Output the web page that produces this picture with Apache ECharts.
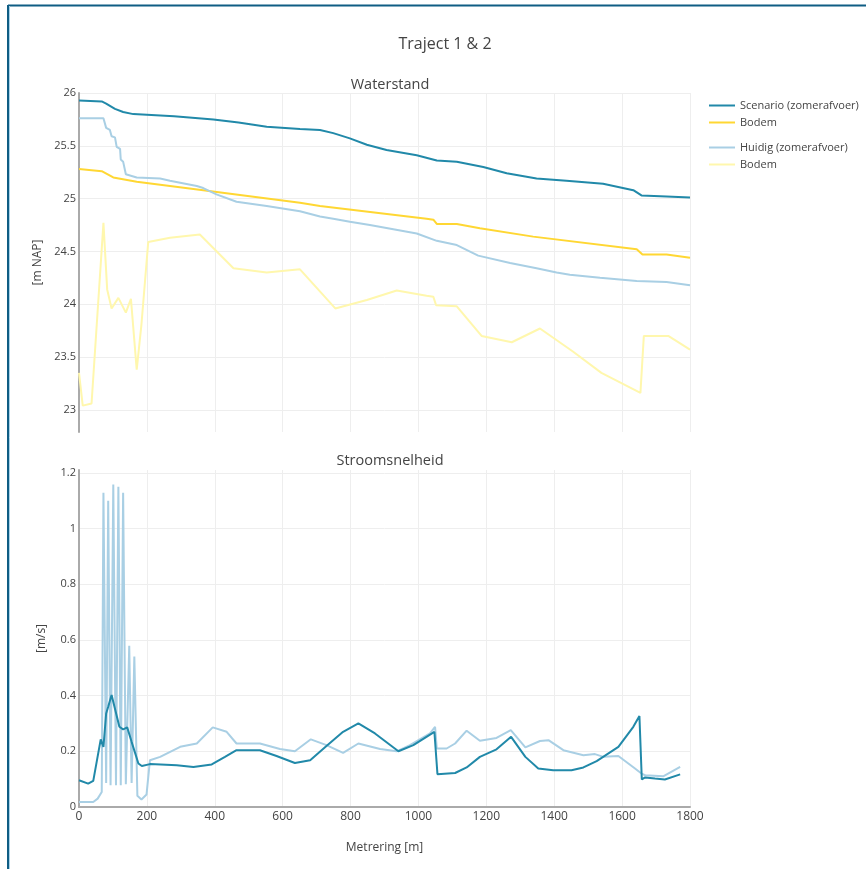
<!DOCTYPE html>
<html>
<head>
<meta charset="utf-8">
<title>Traject 1 & 2</title>
<script src="https://cdn.jsdelivr.net/npm/echarts@6/dist/echarts.min.js"></script>
<style>
    html, body { margin: 0; padding: 0; background: #fff; }
    #chart { width: 866px; height: 869px; }
</style>
</head>
<body>
<div id="chart"></div>
<script>
// Waterstand, scenario (zomerafvoer)
const scenarioLevelX = [0, 67, 80, 106, 130, 160, 280, 396, 470, 553, 651, 710, 749, 798, 848, 906, 995, 1054, 1113, 1191, 1260, 1348, 1436, 1544, 1633, 1657, 1731, 1800];
const scenarioLevel  = [25.93, 25.92, 25.90, 25.85, 25.82, 25.80, 25.78, 25.75, 25.72, 25.68, 25.66, 25.65, 25.62, 25.57, 25.51, 25.46, 25.41, 25.36, 25.35, 25.30, 25.24, 25.19, 25.17, 25.14, 25.08, 25.03, 25.02, 25.01];

// Waterstand, bodem scenario
const scenarioBedX = [0, 67, 101, 170, 366, 651, 710, 1024, 1044, 1054, 1113, 1181, 1338, 1643, 1660, 1731, 1800];
const scenarioBed  = [25.28, 25.26, 25.20, 25.16, 25.08, 24.96, 24.93, 24.81, 24.80, 24.76, 24.76, 24.72, 24.64, 24.52, 24.47, 24.47, 24.44];

// Waterstand, huidig (zomerafvoer)
const currentLevelX = [0, 72, 80, 91, 96, 106, 111, 121, 123, 130, 138, 170, 239, 268, 347, 366, 405, 464, 553, 651, 710, 749, 798, 857, 926, 995, 1054, 1113, 1176, 1270, 1348, 1407, 1446, 1535, 1643, 1731, 1800];
const currentLevel  = [25.76, 25.76, 25.67, 25.65, 25.59, 25.58, 25.49, 25.47, 25.37, 25.35, 25.23, 25.20, 25.19, 25.17, 25.12, 25.10, 25.04, 24.97, 24.93, 24.88, 24.83, 24.81, 24.78, 24.75, 24.71, 24.67, 24.60, 24.56, 24.46, 24.39, 24.34, 24.30, 24.28, 24.25, 24.22, 24.21, 24.18];

// Waterstand, bodem huidig
const currentBedX = [0, 11, 37, 72, 83, 96, 116, 138, 153, 170, 184, 204, 268, 356, 455, 553, 651, 755, 848, 936, 1024, 1044, 1052, 1113, 1186, 1275, 1358, 1456, 1539, 1654, 1658, 1664, 1736, 1800];
const currentBed  = [23.35, 23.04, 23.06, 24.77, 24.14, 23.96, 24.06, 23.92, 24.05, 23.38, 23.81, 24.59, 24.63, 24.66, 24.34, 24.30, 24.33, 23.96, 24.04, 24.13, 24.08, 24.07, 23.99, 23.98, 23.70, 23.64, 23.77, 23.55, 23.35, 23.16, 23.16, 23.70, 23.70, 23.57];

// Stroomsnelheid, scenario
const scenarioSpeedX = [0, 27, 42, 64, 72, 80, 86, 96, 119, 130, 142, 155, 175, 185, 209, 288, 337, 391, 430, 464, 533, 582, 636, 681, 729, 778, 823, 872, 941, 985, 1047, 1056, 1108, 1142, 1181, 1230, 1273, 1315, 1353, 1397, 1451, 1486, 1525, 1589, 1633, 1651, 1658, 1668, 1697, 1726, 1771];
const scenarioSpeed  = [0.096, 0.084, 0.094, 0.243, 0.216, 0.336, 0.36, 0.402, 0.288, 0.279, 0.286, 0.234, 0.156, 0.147, 0.154, 0.150, 0.144, 0.153, 0.18, 0.204, 0.204, 0.183, 0.158, 0.168, 0.219, 0.27, 0.30, 0.264, 0.20, 0.222, 0.27, 0.118, 0.122, 0.142, 0.18, 0.207, 0.252, 0.18, 0.138, 0.132, 0.132, 0.142, 0.165, 0.216, 0.288, 0.327, 0.099, 0.106, 0.102, 0.099, 0.117];

// Stroomsnelheid, huidig
const currentSpeedX = [0, 42, 55, 67, 72, 80, 86, 93, 101, 109, 116, 123, 130, 138, 148, 155, 163, 172, 184, 199, 209, 239, 298, 347, 394, 435, 464, 533, 592, 636, 683, 729, 778, 823, 887, 936, 975, 1034, 1049, 1054, 1083, 1108, 1142, 1181, 1230, 1272, 1315, 1358, 1383, 1427, 1486, 1520, 1545, 1589, 1638, 1657, 1668, 1721, 1771];
const currentSpeed  = [0.018, 0.018, 0.03, 0.054, 1.128, 0.086, 1.10, 0.078, 1.158, 0.078, 1.15, 0.078, 1.128, 0.082, 0.579, 0.086, 0.54, 0.04, 0.027, 0.045, 0.168, 0.18, 0.216, 0.228, 0.286, 0.27, 0.228, 0.228, 0.208, 0.20, 0.243, 0.222, 0.194, 0.228, 0.208, 0.20, 0.222, 0.264, 0.288, 0.21, 0.21, 0.228, 0.274, 0.238, 0.248, 0.276, 0.214, 0.237, 0.24, 0.204, 0.186, 0.19, 0.18, 0.183, 0.138, 0.12, 0.114, 0.11, 0.144];

const colors = {
    scenario: '#2189a9',
    scenarioBed: '#ffd733',
    current: '#a9cfe4',
    currentBed: '#fff7ad'
};

const font = '"Open Sans", Verdana, Arial, sans-serif';
const textColor = '#444';

function pairs(xs, ys) {
    return xs.map((x, i) => [x, ys[i]]);
}

function lineSeries(name, xs, ys, color, axisIndex) {
    return {
        name: name,
        type: 'line',
        xAxisIndex: axisIndex,
        yAxisIndex: axisIndex,
        data: pairs(xs, ys),
        symbol: 'none',
        color: color,
        lineStyle: { width: 2, color: color },
        animation: false
    };
}

const chart = echarts.init(document.getElementById('chart'), null, { renderer: 'canvas' });

const legendBase = {
    orient: 'vertical',
    left: 704,
    icon: 'rect',
    itemWidth: 26,
    itemHeight: 2,
    itemGap: 4,
    textStyle: { fontFamily: font, fontSize: 11, color: textColor, lineHeight: 13 },
    formatter: name => name.indexOf('Bodem') === 0 ? 'Bodem' : name
};

const subTitle = { fontFamily: font, fontSize: 14.5, fontWeight: 'normal', color: textColor };

const option = {
    backgroundColor: '#fff',
    animation: false,
    title: [
        { text: 'Traject 1 & 2', left: 440, top: 31, textAlign: 'center',
          textStyle: { fontFamily: font, fontSize: 16, fontWeight: 'normal', color: textColor } },
        { text: 'Waterstand', left: 385, top: 72, textAlign: 'center', textStyle: subTitle },
        { text: 'Stroomsnelheid', left: 385, top: 448, textAlign: 'center', textStyle: subTitle }
    ],
    legend: [
        Object.assign({}, legendBase, { top: 94, data: ['Scenario (zomerafvoer)', 'Bodem scenario'] }),
        Object.assign({}, legendBase, { top: 136, data: ['Huidig (zomerafvoer)', 'Bodem huidig'] })
    ],
    grid: [
        { left: 79, top: 93, width: 611, height: 339 },
        { left: 79, top: 470, width: 611, height: 337 }
    ],
    xAxis: [
        {
            type: 'value', gridIndex: 0, min: 0, max: 1800, interval: 200,
            axisLine: { show: false }, axisTick: { show: false }, axisLabel: { show: false },
            splitLine: { lineStyle: { color: '#eee', width: 1 } }
        },
        {
            type: 'value', gridIndex: 1, min: 0, max: 1800, interval: 200,
            name: 'Metrering [m]', nameLocation: 'middle', nameGap: 35,
            nameTextStyle: { fontFamily: font, fontSize: 12, color: textColor },
            axisLine: { show: true, onZero: false, lineStyle: { color: '#aaa', width: 2 } },
            axisTick: { show: false },
            axisLabel: { fontFamily: font, fontSize: 12, color: textColor, margin: 4, formatter: v => String(v) },
            splitLine: { lineStyle: { color: '#eee', width: 1 } }
        }
    ],
    yAxis: [
        {
            type: 'value', gridIndex: 0, min: 22.79, max: 26,
            name: '[m NAP]', nameLocation: 'middle', nameGap: 31,
            nameTextStyle: { fontFamily: font, fontSize: 12, color: textColor },
            axisLine: { show: true, onZero: false, lineStyle: { color: '#aaa', width: 2 } },
            axisTick: { show: false },
            axisLabel: { fontFamily: font, fontSize: 11, color: textColor, margin: 3, showMinLabel: false },
            splitLine: { showMinLine: false, lineStyle: { color: '#eee', width: 1 } }
        },
        {
            type: 'value', gridIndex: 1, min: 0, max: 1.21,
            name: '[m/s]', nameLocation: 'middle', nameGap: 31,
            nameTextStyle: { fontFamily: font, fontSize: 12, color: textColor },
            axisLine: { show: true, onZero: false, lineStyle: { color: '#aaa', width: 2 } },
            axisTick: { show: false },
            axisLabel: { fontFamily: font, fontSize: 11, color: textColor, margin: 3, showMaxLabel: false },
            splitLine: { showMaxLine: false, lineStyle: { color: '#eee', width: 1 } }
        }
    ],
    series: [
        lineSeries('Scenario (zomerafvoer)', scenarioLevelX, scenarioLevel, colors.scenario, 0),
        lineSeries('Bodem scenario', scenarioBedX, scenarioBed, colors.scenarioBed, 0),
        lineSeries('Huidig (zomerafvoer)', currentLevelX, currentLevel, colors.current, 0),
        lineSeries('Bodem huidig', currentBedX, currentBed, colors.currentBed, 0),
        lineSeries('Huidig (zomerafvoer)', currentSpeedX, currentSpeed, colors.current, 1),
        lineSeries('Scenario (zomerafvoer)', scenarioSpeedX, scenarioSpeed, colors.scenario, 1)
    ],
    graphic: [
        // blauwe kader rand boven en links
        { type: 'line', silent: true, shape: { x1: 8, y1: 5.5, x2: 866, y2: 5.5 }, style: { stroke: '#0f5d84', lineWidth: 2 } },
        { type: 'line', silent: true, shape: { x1: 8, y1: 5, x2: 8, y2: 869 }, style: { stroke: '#0f5d84', lineWidth: 2 } },
        { type: 'line', silent: true, shape: { x1: 9.5, y1: 6, x2: 9.5, y2: 869 }, style: { stroke: '#a9d3ea', lineWidth: 1 } }
    ]
};

chart.setOption(option);
</script>
</body>
</html>
